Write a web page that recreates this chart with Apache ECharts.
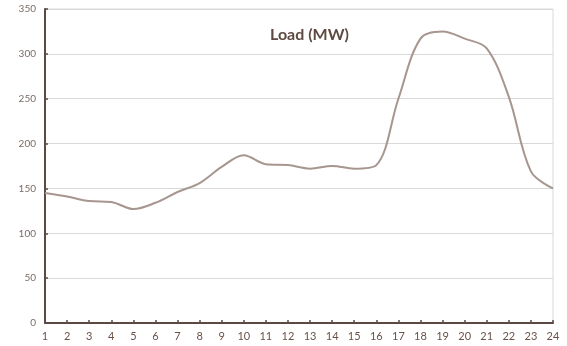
<!DOCTYPE html>
<html>
<head>
<meta charset="utf-8">
<script src="https://cdn.jsdelivr.net/npm/echarts@6/dist/echarts.min.js"></script>
<style>html,body{margin:0;padding:0;background:#fff}#c{width:567px;height:346px}</style>
</head>
<body>
<div id="c"></div>
<script>
var hours = ['1','2','3','4','5','6','7','8','9','10','11','12','13','14','15','16','17','18','19','20','21','22','23','24'];
var load = [145, 141, 136, 135, 127, 134, 146, 156, 174, 187, 177, 176, 172, 175, 172, 176, 250, 317, 325, 317, 306, 252, 169, 150];
var titleText = 'Load (MW)';

var chart = echarts.init(document.getElementById('c'), null, {renderer: 'canvas'});
chart.setOption({
  animation: false,
  title: {
    text: titleText,
    left: 265, top: 22,
    textStyle: {fontFamily: 'Lato', fontSize: 16, fontWeight: 'bold', color: '#5e4a42'}
  },
  grid: {left: 45, right: 14, top: 9, bottom: 23, show: true, borderColor: '#d9d9d9', borderWidth: 1},
  xAxis: {
    type: 'category', data: hours, boundaryGap: false,
    axisLine: {lineStyle: {color: '#5b4a44', width: 2}},
    axisTick: {inside: true, length: 3, alignWithLabel: true, lineStyle: {color: '#5b4a44', width: 1.5}},
    axisLabel: {color: '#6b5148', fontFamily: 'Lato', fontSize: 11, margin: 8, interval: 0},
    splitLine: {show: false}
  },
  yAxis: {
    type: 'value', min: 0, max: 350, interval: 50,
    axisLine: {show: true, lineStyle: {color: '#5b4a44', width: 2}},
    axisTick: {show: true, inside: true, length: 3, lineStyle: {color: '#5b4a44', width: 1.5}},
    axisLabel: {color: '#7a6c66', fontFamily: 'Lato', fontSize: 10, margin: 9},
    splitLine: {lineStyle: {color: '#d9d9d9', width: 1}}
  },
  series: [{
    type: 'line', data: load, smooth: 0.35, symbol: 'none',
    lineStyle: {color: '#a6968f', width: 2}
  }]
});
</script>
</body>
</html>
